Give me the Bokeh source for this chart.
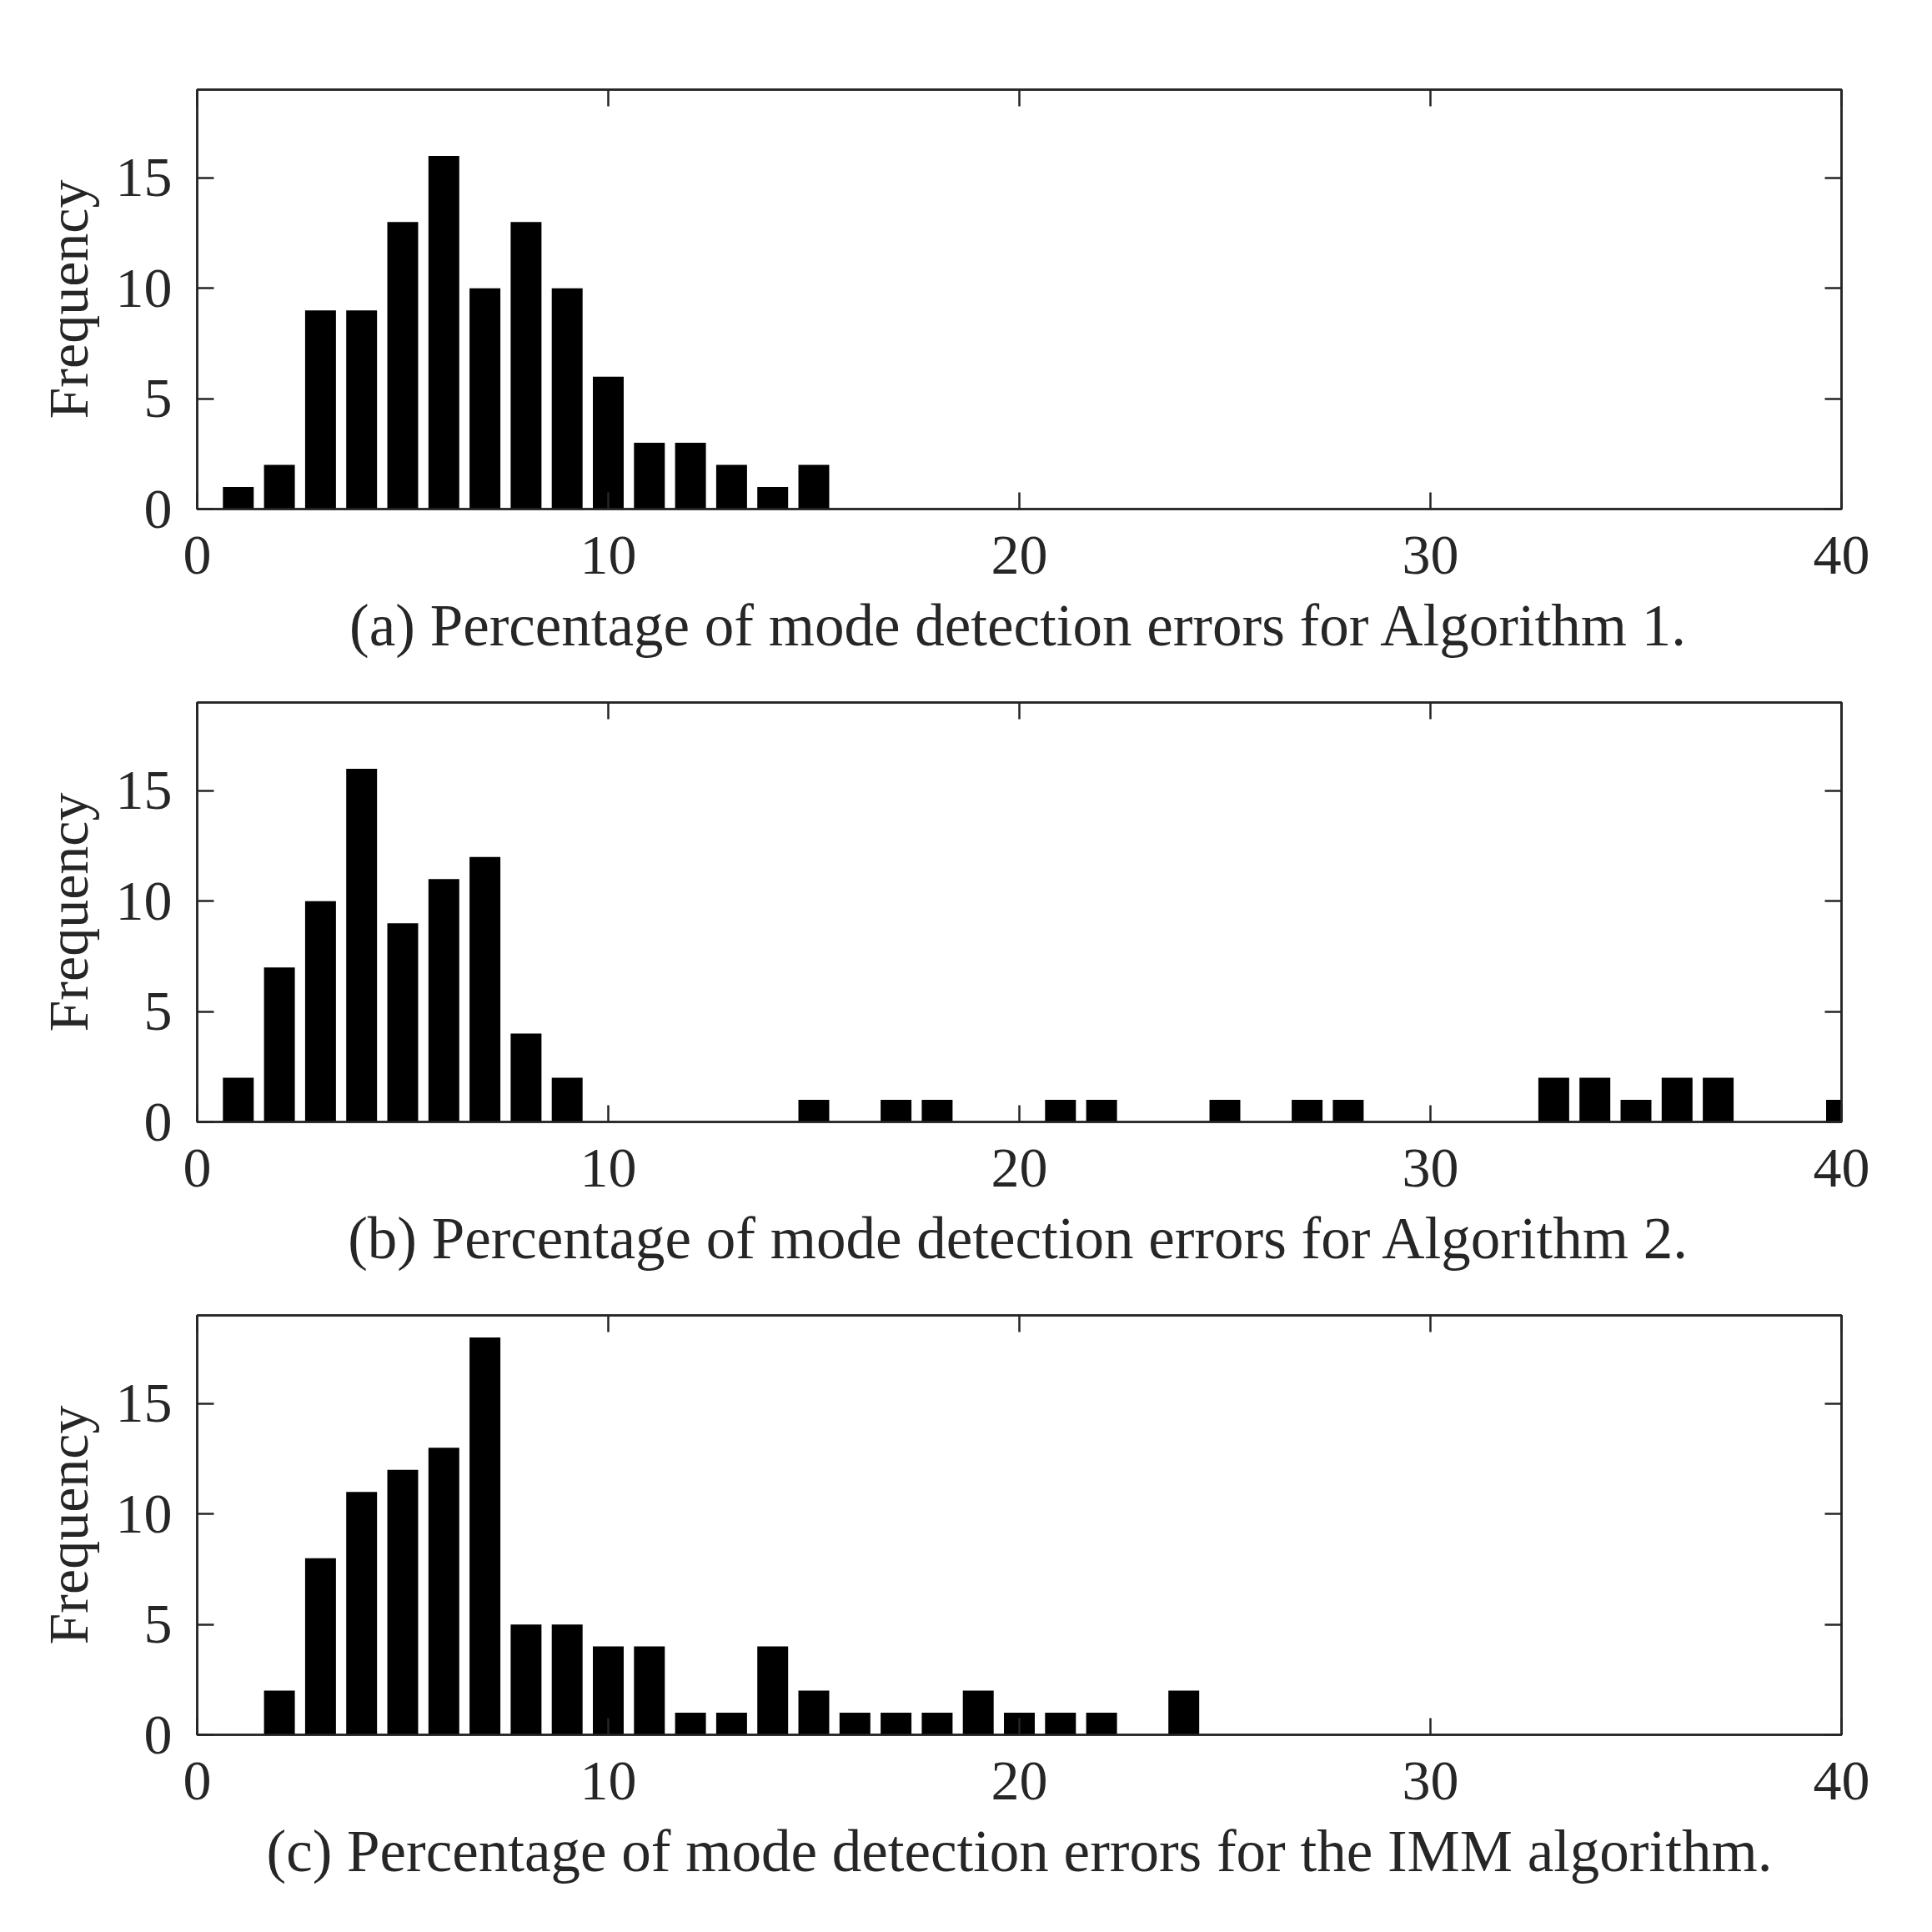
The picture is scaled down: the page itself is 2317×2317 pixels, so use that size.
from bokeh.plotting import figure
from bokeh.models import Range1d, LinearAxis, FixedTicker, CustomLabelingPolicy
from bokeh.layouts import column
from bokeh.embed import file_html
from bokeh.resources import INLINE

# ---- data (bin centres in %, frequency counts) ----
a_centers = [1, 2, 3, 4, 5, 6, 7, 8, 9, 10, 11, 12, 13, 14, 15]
a_counts = [1, 2, 9, 9, 13, 16, 10, 13, 10, 6, 3, 3, 2, 1, 2]

b_centers = [1, 2, 3, 4, 5, 6, 7, 8, 9, 15, 17, 18, 21, 22, 25, 27, 28,
             33, 34, 35, 36, 37, 40]
b_counts = [2, 7, 10, 16, 9, 11, 12, 4, 2, 1, 1, 1, 1, 1, 1, 1, 1,
            2, 2, 1, 2, 2, 1]

c_centers = [2, 3, 4, 5, 6, 7, 8, 9, 10, 11, 12, 13, 14, 15, 16, 17, 18,
             19, 20, 21, 22, 24]
c_counts = [2, 8, 11, 12, 13, 18, 5, 5, 4, 4, 1, 1, 4, 2, 1, 1, 1,
            2, 1, 1, 1, 2]

captions = [
    "(a) Percentage of mode detection errors for Algorithm 1.",
    "(b) Percentage of mode detection errors for Algorithm 2.",
    "(c) Percentage of mode detection errors for the IMM algorithm.",
]

x_ticks = [0, 10, 20, 30, 40]
y_ticks = [0, 5, 10, 15]
y_label = "Frequency"

FONT = "Liberation Serif"
DARK = "#262626"
FS = "68px"
CAP_FS = "71px"
LW = 2.5

HIDE_JS = """
try {
  const r = indices.clone();
  for (const i of indices.ones()) r.unset(i);
  return r;
} catch (e) { return indices; }
"""


def style_axis(ax, ticks, show_labels=True):
    ax.ticker = FixedTicker(ticks=ticks)
    ax.major_tick_in = 20
    ax.major_tick_out = 0
    ax.minor_tick_in = 0
    ax.minor_tick_out = 0
    ax.major_tick_line_color = DARK
    ax.major_tick_line_width = LW
    ax.axis_line_color = DARK
    ax.axis_line_width = LW
    ax.major_label_text_font = FONT
    ax.major_label_text_color = DARK
    if show_labels:
        ax.major_label_text_font_size = FS
    else:
        ax.major_label_text_font_size = "0px"
        ax.major_label_standoff = 0
        ax.major_label_policy = CustomLabelingPolicy(code=HIDE_JS)


def make_panel(centers, counts, caption, top_border):
    p = figure(width=2260, height=top_border + 503 + 212,
               x_range=Range1d(0, 40), y_range=Range1d(0, 19),
               output_backend="svg", toolbar_location=None,
               min_border_left=236, min_border_right=52,
               min_border_top=top_border, min_border_bottom=212)
    p.vbar(x=centers, top=counts, width=0.75, bottom=0,
           fill_color="black", line_color=None)
    p.xgrid.visible = False
    p.ygrid.visible = False
    p.outline_line_color = DARK
    p.outline_line_width = LW
    p.background_fill_color = "white"
    p.border_fill_color = "white"

    style_axis(p.xaxis[0], x_ticks)
    p.xaxis[0].major_label_standoff = 33
    p.xaxis[0].axis_label = caption
    p.xaxis[0].axis_label_text_font = FONT
    p.xaxis[0].axis_label_text_font_size = CAP_FS
    p.xaxis[0].axis_label_text_font_style = "normal"
    p.xaxis[0].axis_label_text_color = DARK
    p.xaxis[0].axis_label_standoff = 20

    style_axis(p.yaxis[0], y_ticks)
    p.yaxis[0].major_label_standoff = 30
    p.yaxis[0].axis_label = y_label
    p.yaxis[0].axis_label_text_font = FONT
    p.yaxis[0].axis_label_text_font_size = FS
    p.yaxis[0].axis_label_text_font_style = "normal"
    p.yaxis[0].axis_label_text_color = DARK
    p.yaxis[0].axis_label_standoff = 16

    top_ax = LinearAxis()
    style_axis(top_ax, x_ticks, show_labels=False)
    p.add_layout(top_ax, "above")
    right_ax = LinearAxis()
    style_axis(right_ax, y_ticks, show_labels=False)
    p.add_layout(right_ax, "right")
    return p


p1 = make_panel(a_centers, a_counts, captions[0], 107)
p2 = make_panel(b_centers, b_counts, captions[1], 20)
p3 = make_panel(c_centers, c_counts, captions[2], 20)

layout = column(p1, p2, p3, spacing=0)

open("out.html", "w").write(file_html(layout, INLINE))
